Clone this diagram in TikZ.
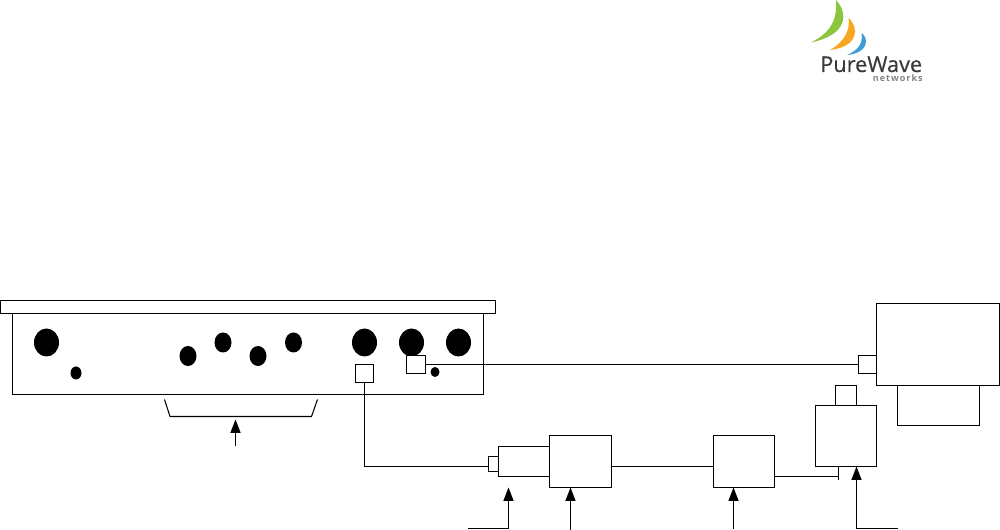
\documentclass[tikz,border=0pt]{standalone}
\usepackage{fontspec}
\setmainfont{Open Sans}
\usetikzlibrary{arrows.meta}
\definecolor{logogreen}{HTML}{8CC63F}
\definecolor{logoorange}{HTML}{F7A823}
\definecolor{logoblue}{HTML}{3F9BD5}
\definecolor{logodark}{HTML}{3A3A3C}
\definecolor{logogray}{HTML}{808285}
\tikzset{
  wire/.style={draw=black,line width=0.8pt},
  boxn/.style={draw=black,fill=white,line width=0.8pt,rectangle,inner sep=0pt,outer sep=0pt},
  hole/.style={fill=black,draw=none},
  pointer/.style={wire,-{Triangle[length=10pt,width=7.5pt]}}
}
\newcommand{\bx}[5]{\node[boxn,minimum width={(#4-#2)*0.75pt},minimum height={(#5-#3)*0.75pt}] (#1) at ({(#2+#4)/2},{(#3+#5)/2}) {};}
\begin{document}
\begin{tikzpicture}[x=0.75pt,y=-0.75pt]
\useasboundingbox (0,0) rectangle (1000,530);
% logo
\fill[logogreen] (836,0) .. controls (849,14) and (847,35) .. (811,42.5) .. controls (826,35) and (838,24) .. (836,0) -- cycle;
\fill[logoorange] (848.5,18) .. controls (860,28) and (858,47) .. (830,50) .. controls (837,46) and (851,36) .. (848.5,18) -- cycle;
\fill[logoblue] (861.5,33) .. controls (869,38) and (869,53) .. (847,55) .. controls (854,52) and (864,46) .. (861.5,33) -- cycle;
\node[inner sep=0pt,anchor=base west,text=logodark,font=\fontsize{16.3pt}{16.3pt}\addfontfeatures{FakeBold=0.6}\selectfont] (logoa) at (820,72) {PureWave};
\node[inner sep=0pt,anchor=base east,text=logogray,font=\fontsize{6.8pt}{6.8pt}\bfseries\addfontfeatures{LetterSpace=11}\selectfont] (logob) at (923,82) {networks};
% enclosure
\bx{lid}{0.5}{300.5}{495.5}{313.5}
\bx{body}{12.5}{313.5}{483.5}{394.5}
\foreach \n/\cx/\cy/\rx/\ry in {h1/46.5/342.5/12.5/14, h2/76/373/5.5/6.5, h3/188/356/8.5/10, h4/223/342.5/8.5/10, h5/258/356/8.5/10, h6/293.5/342.5/8.5/10, h7/364.5/342.5/12.5/14, h8/411.5/342.5/12.5/14, h9/458.5/342.5/12.5/14, h10/435/372/4.5/5}
  \fill[hole] (\cx,\cy) ellipse [x radius=\rx,y radius=\ry];
% boxes
\bx{portA}{355.5}{364.5}{373.5}{382.5}
\bx{portB}{406.5}{355.5}{425.5}{373.5}
\bx{unit}{876.5}{303.5}{999.5}{385.5}
\bx{unitport}{858.5}{355.5}{876.5}{373.5}
\bx{unitbase}{897.5}{385.5}{979.5}{425.5}
\bx{psu}{815.5}{405.5}{876.5}{466.5}
\bx{psutop}{835.5}{385.5}{856.5}{405.5}
\bx{mid}{713.5}{435.5}{774.5}{487.5}
\bx{conv}{549.5}{435.5}{611.5}{487.5}
\bx{plug}{498.5}{446.5}{549.5}{476.5}
\bx{plugtip}{488.5}{456.5}{498.5}{471.5}
% connectors
\draw[wire] (portB.east) -- (unitport.west);
\coordinate (lineY) at (0,466.5);
\draw[wire] (portA.south) |- (plugtip.west |- lineY);
\draw[wire] (conv.east |- lineY) -- (mid.west |- lineY);
\coordinate (tick) at (838.5,476.5);
\coordinate (tickend) at (838.5,480.5);
\draw[wire] (mid.east |- tick) -- (tick);
\draw[wire] (psu.south -| tick) -- (tickend);
% bracket
\coordinate (b1) at (164.5,399.5);
\coordinate (b2) at (170,416.5);
\coordinate (b3) at (311.5,416.5);
\coordinate (b4) at (317.5,399.5);
\draw[wire] (b1) -- (b2) -- (b3) -- (b4);
\coordinate (bs) at (235.5,446.5);
\coordinate (bt) at (235.5,419.5);
\draw[pointer] (bs) -- (bt);
% pointers
\coordinate (p1s) at (468,528.5);
\coordinate (p1c) at (508.5,528.5);
\coordinate (p1t) at (508.5,487.5);
\draw[pointer] (p1s) -- (p1c) -- (p1t);
\coordinate (p2s) at (570.5,530);
\draw[pointer] (p2s) -- (conv.south -| p2s);
\coordinate (p3s) at (733.5,529);
\draw[pointer] (p3s) -- (mid.south -| p3s);
\coordinate (p4s) at (897.5,528.5);
\coordinate (p4c) at (856.5,528.5);
\draw[pointer] (p4s) -- (p4c) -- (psu.south -| p4c);
\end{tikzpicture}
\end{document}
